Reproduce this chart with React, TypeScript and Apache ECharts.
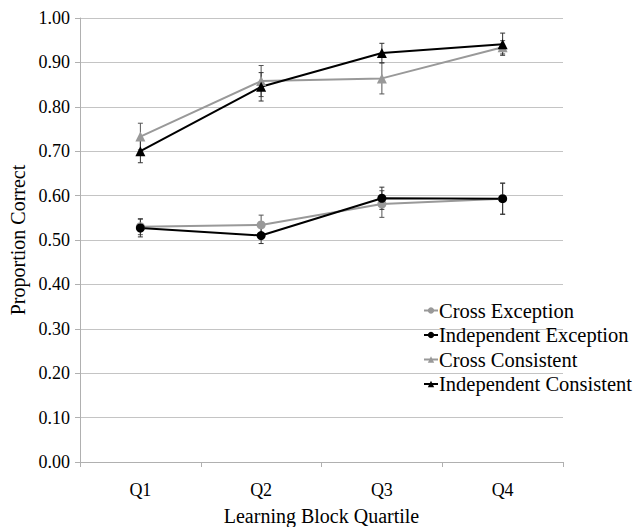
import React, { useEffect, useRef } from "react";
import * as echarts from "echarts";

const categories = ["Q1", "Q2", "Q3", "Q4"];
const yTickLabels = ["0.00", "0.10", "0.20", "0.30", "0.40", "0.50", "0.60", "0.70", "0.80", "0.90", "1.00"];

const crossException = [0.530, 0.534, 0.581, 0.593];
const crossExceptionErr = [0.018, 0.022, 0.030, 0.035];
const independentException = [0.527, 0.510, 0.594, 0.593];
const independentExceptionErr = [0.020, 0.018, 0.025, 0.035];
const crossConsistent = [0.733, 0.858, 0.864, 0.934];
const crossConsistentErr = [0.030, 0.035, 0.035, 0.015];
const independentConsistent = [0.700, 0.845, 0.921, 0.941];
const independentConsistentErr = [0.026, 0.032, 0.022, 0.025];

const GRAY = "#999999";
const BLACK = "#000000";
const FONT = "Liberation Serif";

function errorSeries(values: number[], errs: number[], color: string) {
  return {
    type: "custom",
    silent: true,
    z: 1,
    data: values.map((v, i) => [i, v - errs[i], v + errs[i]]),
    renderItem: (_params: any, api: any) => {
      const lo = api.coord([api.value(0), api.value(1)]);
      const hi = api.coord([api.value(0), api.value(2)]);
      const cap = 2.5;
      const style = { stroke: color, lineWidth: 1 };
      return {
        type: "group",
        children: [
          { type: "line", shape: { x1: lo[0], y1: lo[1], x2: hi[0], y2: hi[1] }, style },
          { type: "line", shape: { x1: lo[0] - cap, y1: lo[1], x2: lo[0] + cap, y2: lo[1] }, style },
          { type: "line", shape: { x1: hi[0] - cap, y1: hi[1], x2: hi[0] + cap, y2: hi[1] }, style },
        ],
      };
    },
  };
}

function lineSeries(name: string, values: number[], color: string, symbol: string, size: number) {
  return {
    name,
    type: "line",
    data: values,
    symbol,
    symbolSize: size,
    z: 3,
    itemStyle: { color },
    lineStyle: { color, width: 2 },
  };
}

export default function App() {
  const ref = useRef<HTMLDivElement>(null);
  useEffect(() => {
    if (!ref.current) return;
    const chart = echarts.init(ref.current, null, { renderer: "svg" });
    chart.setOption({
      animation: false,
      backgroundColor: "#ffffff",
      textStyle: { fontFamily: FONT },
      grid: { left: 80, right: 79, top: 18, bottom: 65, containLabel: false, outerBoundsMode: "none" },
      legend: {
        orient: "vertical",
        left: 418,
        top: 295,
        itemGap: 3.5,
        itemWidth: 14,
        itemHeight: 8,
        textStyle: { fontFamily: FONT, fontSize: 20.5, color: "#000", padding: [0, 0, 0, -4] },
        data: ["Cross Exception", "Independent Exception", "Cross Consistent", "Independent Consistent"],
      },
      xAxis: {
        type: "category",
        data: categories,
        boundaryGap: true,
        name: "Learning Block Quartile",
        nameLocation: "middle",
        nameGap: 44,
        nameTextStyle: { fontFamily: FONT, fontSize: 20, color: "#000" },
        axisLine: { lineStyle: { color: "#b0b0b0" } },
        axisTick: { show: true, length: 5, lineStyle: { color: "#b0b0b0" } },
        axisLabel: { fontFamily: FONT, fontSize: 18, color: "#000", margin: 19 },
        splitLine: { show: false },
      },
      yAxis: {
        type: "value",
        min: 0,
        max: 1,
        interval: 0.1,
        name: "Proportion Correct",
        nameLocation: "middle",
        nameGap: 50,
        nameTextStyle: { fontFamily: FONT, fontSize: 20, color: "#000" },
        axisLine: { show: true, lineStyle: { color: "#b0b0b0" } },
        axisTick: { show: true, length: 5, lineStyle: { color: "#b0b0b0" } },
        axisLabel: {
          fontFamily: FONT,
          fontSize: 18,
          color: "#000",
          margin: 10,
          formatter: (v: number) => yTickLabels[Math.round(v * 10)] ?? v.toFixed(2),
        },
        splitLine: { lineStyle: { color: "#c4c4c4", width: 1 } },
      },
      series: [
        errorSeries(crossException, crossExceptionErr, "#555555"),
        errorSeries(independentException, independentExceptionErr, "#333333"),
        errorSeries(crossConsistent, crossConsistentErr, "#555555"),
        errorSeries(independentConsistent, independentConsistentErr, "#333333"),
        lineSeries("Cross Exception", crossException, GRAY, "circle", 9),
        lineSeries("Independent Exception", independentException, BLACK, "circle", 9),
        lineSeries("Cross Consistent", crossConsistent, GRAY, "triangle", 10),
        lineSeries("Independent Consistent", independentConsistent, BLACK, "triangle", 10),
      ],
    });
    return () => chart.dispose();
  }, []);
  return (
    <div
      ref={ref}
      style={{ position: "fixed", left: 0, top: 0, width: 642, height: 527, background: "#fff" }}
    />
  );
}
